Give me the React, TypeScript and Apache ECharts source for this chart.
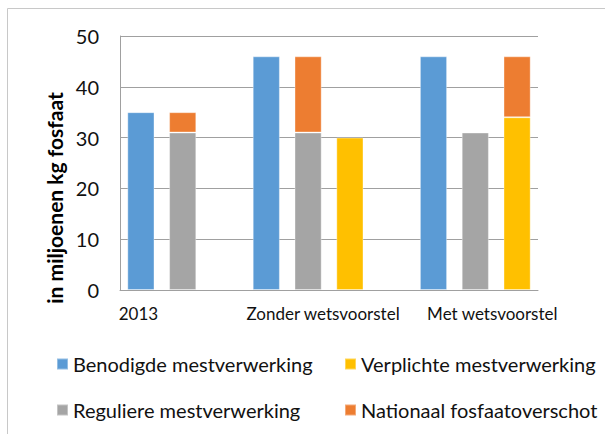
import React, { useEffect, useRef } from "react";
import * as echarts from "echarts";

const categories = ["2013", "", "", "", "Zonder wetsvoorstel", "", "", "", "Met wetsvoorstel", ""];
const benodigde = [35, null, null, 46, null, null, null, 46, null, null];
const verplichte = [null, null, null, null, null, 30, null, null, null, 34];
const reguliere = [null, 31, null, null, 31, null, null, null, 31, null];
const nationaal = [null, 4, null, null, 15, null, null, null, null, 12];
const yTicks = [0, 10, 20, 30, 40, 50];

const FONT = "Lato, 'Open Sans', sans-serif";

export default function App() {
  const ref = useRef<HTMLDivElement>(null);
  useEffect(() => {
    document.body.style.margin = "0";
    const chart = echarts.init(ref.current!, null, { renderer: "svg" });
    const mk = (name: string, data: (number | null)[], color: string) => ({
      name,
      type: "bar",
      stack: "all",
      data,
      barCategoryGap: "35%",
      itemStyle: { color, borderColor: "rgba(255,255,255,0.35)", borderWidth: 1 },
    });
    const legendBase = {
      top: 354,
      orient: "vertical",
      itemGap: 26,
      itemWidth: 11,
      itemHeight: 11,
      padding: 0,
      icon: "rect",
      textStyle: { fontFamily: FONT, fontSize: 20, color: "#111" },
    };
    chart.setOption({
      animation: false,
      backgroundColor: "#ffffff",
      textStyle: { fontFamily: FONT },
      grid: { left: 120, right: 67, top: 36, bottom: 144 },
      graphic: [
        {
          type: "rect",
          shape: { x: 7.5, y: 8.5, width: 700, height: 500 },
          style: { fill: "none", stroke: "#c8c8c8", lineWidth: 1 },
          silent: true,
        },
      ],
      legend: [
        { ...legendBase, left: 56, data: ["Benodigde mestverwerking", "Reguliere mestverwerking"] },
        { ...legendBase, left: 344, data: ["Verplichte mestverwerking", "Nationaal fosfaatoverschot"] },
      ],
      xAxis: {
        type: "category",
        data: categories,
        axisTick: { show: false },
        axisLine: { lineStyle: { color: "#a0a0a0", width: 1 } },
        axisLabel: {
          interval: 0,
          margin: 15,
          fontSize: 17,
          color: "#111",
          fontFamily: FONT,
          formatter: (v: string) => {
            if (v === "2013") return "{a|" + v + "}";
            if (v === "Zonder wetsvoorstel") return "{b|" + v + "}";
            if (v === "Met wetsvoorstel") return "{c|" + v + "}";
            return "";
          },
          rich: {
            a: { fontSize: 17, fontFamily: FONT, color: "#111", padding: [0, 5, 0, 0] },
            b: { fontSize: 17, fontFamily: FONT, color: "#111", padding: [0, 0, 0, 30] },
            c: { fontSize: 17, fontFamily: FONT, color: "#111", padding: [0, 0, 0, 34] },
          },
        },
      },
      yAxis: {
        type: "value",
        min: yTicks[0],
        max: yTicks[yTicks.length - 1],
        interval: 10,
        name: "in miljoenen kg fosfaat",
        nameLocation: "middle",
        nameGap: 54,
        nameTextStyle: {
          fontFamily: FONT,
          fontSize: 21,
          fontWeight: "bold",
          color: "#000",
          padding: [0, 70, 0, 0],
        },
        axisLine: { show: true, lineStyle: { color: "#a0a0a0", width: 1 } },
        axisTick: { show: false },
        splitLine: { lineStyle: { color: "#a0a0a0", width: 1 } },
        axisLabel: { fontSize: 20, color: "#111", margin: 21, fontFamily: FONT },
      },
      series: [
        mk("Benodigde mestverwerking", benodigde, "#5B9BD5"),
        mk("Verplichte mestverwerking", verplichte, "#FFC000"),
        mk("Reguliere mestverwerking", reguliere, "#A5A5A5"),
        mk("Nationaal fosfaatoverschot", nationaal, "#ED7D31"),
      ],
    });
    return () => chart.dispose();
  }, []);
  return <div ref={ref} style={{ width: 605, height: 434 }} />;
}
